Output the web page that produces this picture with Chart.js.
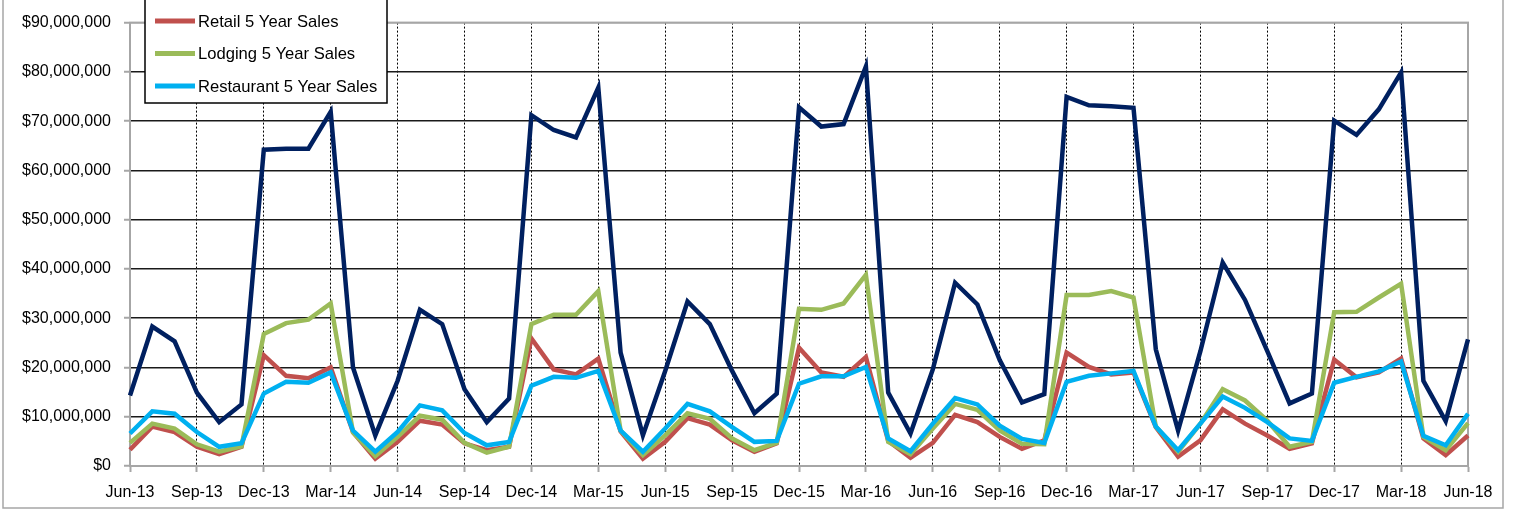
<!DOCTYPE html>
<html lang="en">
  <head>
    <meta charset="UTF-8" />
    <title>5 Year Sales</title>
    <style>
      html, body { margin: 0; padding: 0; background: #fff; }
      #wrap { width: 1514px; height: 510px; }
    </style>
  </head>
  <body>
    <div id="wrap"><canvas id="salesChart" width="1514" height="510"></canvas></div>

    <script src="https://cdn.jsdelivr.net/npm/chart.js"></script>

    <script>
      // monthly labels, Jun-13 .. Jun-18
      const months = [
        "Jun-13", "Jul-13", "Aug-13", "Sep-13", "Oct-13", "Nov-13", "Dec-13", "Jan-14", "Feb-14", "Mar-14",
        "Apr-14", "May-14", "Jun-14", "Jul-14", "Aug-14", "Sep-14", "Oct-14", "Nov-14", "Dec-14", "Jan-15",
        "Feb-15", "Mar-15", "Apr-15", "May-15", "Jun-15", "Jul-15", "Aug-15", "Sep-15", "Oct-15", "Nov-15",
        "Dec-15", "Jan-16", "Feb-16", "Mar-16", "Apr-16", "May-16", "Jun-16", "Jul-16", "Aug-16", "Sep-16",
        "Oct-16", "Nov-16", "Dec-16", "Jan-17", "Feb-17", "Mar-17", "Apr-17", "May-17", "Jun-17", "Jul-17",
        "Aug-17", "Sep-17", "Oct-17", "Nov-17", "Dec-17", "Jan-18", "Feb-18", "Mar-18", "Apr-18", "May-18",
        "Jun-18"
      ];

      // values in millions of dollars
      const totalSales = [
        14.3, 28.3, 25.3, 14.9, 8.9, 12.5, 64.2, 64.4, 64.4, 71.9,
        20.0, 6.2, 17.3, 31.7, 28.8, 15.6, 8.9, 13.7, 71.2, 68.2,
        66.7, 76.8, 23.0, 6.2, 19.3, 33.4, 28.8, 19.3, 10.7, 14.7,
        72.8, 68.9, 69.4, 81.1, 14.9, 6.6, 19.6, 37.2, 32.8, 21.5,
        12.9, 14.6, 74.9, 73.2, 73.0, 72.7, 23.7, 7.2, 23.3, 41.3,
        33.7, 23.3, 12.7, 14.7, 70.1, 67.2, 72.4, 79.9, 17.3, 9.1,
        25.7
      ];
      const retailSales = [
        3.3, 8.0, 6.9, 3.9, 2.4, 3.9, 22.5, 18.3, 17.8, 20.0,
        6.9, 1.5, 4.9, 9.2, 8.4, 4.6, 3.2, 3.9, 25.9, 19.6,
        18.6, 21.8, 7.0, 1.5, 4.9, 9.7, 8.4, 5.2, 2.9, 4.6,
        24.0, 19.0, 18.1, 22.1, 5.1, 1.7, 4.7, 10.4, 8.9, 5.9,
        3.5, 5.2, 23.0, 20.1, 18.6, 19.0, 7.9, 1.9, 5.2, 11.5,
        8.6, 6.2, 3.5, 4.6, 21.6, 18.0, 19.0, 21.8, 5.6, 2.2,
        6.2
      ];
      const lodgingSales = [
        4.7, 8.6, 7.6, 4.4, 2.9, 4.0, 26.8, 29.0, 29.7, 33.0,
        6.8, 2.0, 5.9, 10.2, 9.4, 4.7, 2.7, 3.9, 28.8, 30.7,
        30.7, 35.5, 7.2, 2.2, 6.2, 10.7, 9.6, 5.6, 3.2, 4.7,
        31.9, 31.7, 33.0, 38.8, 4.9, 2.4, 7.6, 12.6, 11.4, 7.2,
        4.5, 4.4, 34.7, 34.7, 35.5, 34.2, 8.0, 2.9, 8.6, 15.6,
        13.3, 9.2, 3.9, 4.9, 31.2, 31.3, 34.2, 37.0, 5.9, 3.2,
        8.7
      ];
      const restaurantSales = [
        6.6, 11.1, 10.6, 6.9, 3.9, 4.6, 14.7, 17.1, 16.9, 19.0,
        7.2, 2.9, 6.9, 12.3, 11.3, 6.7, 4.2, 4.9, 16.3, 18.1,
        17.9, 19.3, 7.2, 2.9, 7.6, 12.6, 11.1, 7.9, 4.9, 5.1,
        16.7, 18.2, 18.2, 20.1, 5.6, 3.0, 8.6, 13.8, 12.5, 8.2,
        5.5, 4.7, 17.1, 18.3, 18.8, 19.3, 8.0, 3.2, 8.6, 14.1,
        11.8, 8.9, 5.6, 5.1, 16.9, 18.1, 19.2, 21.2, 6.1, 4.2,
        10.6
      ];

      const FONT = "'Liberation Sans', Arial, sans-serif";

      // boxed legend sitting in the top-left corner (partly cut off at the top)
      const boxLegend = {
        id: "boxLegend",
        afterDraw(chart) {
          const ctx = chart.ctx;
          const items = chart.data.datasets.filter((d) => d.inLegend);
          items.sort((a, b) => a.legendPos - b.legendPos);
          ctx.save();
          ctx.fillStyle = "#fff";
          ctx.fillRect(145, -20, 242, 123);
          ctx.strokeStyle = "#000";
          ctx.lineWidth = 1.5;
          ctx.strokeRect(145, -20, 242, 123);
          ctx.font = "16.6px " + FONT;
          ctx.textBaseline = "middle";
          ctx.fillStyle = "#000";
          items.forEach((d, i) => {
            const y = 21 + i * 32.5;
            ctx.strokeStyle = d.borderColor;
            ctx.lineWidth = 5;
            ctx.beginPath();
            ctx.moveTo(155, y);
            ctx.lineTo(195, y);
            ctx.stroke();
            ctx.fillText(d.label, 198, y + 1);
          });
          ctx.restore();
        },
      };

      // grey frame round the plot area and round the whole chart
      const frames = {
        id: "frames",
        beforeDatasetsDraw(chart) {
          const { ctx, chartArea: a } = chart;
          ctx.save();
          ctx.strokeStyle = "#a6a6a6";
          ctx.lineWidth = 2;
          ctx.strokeRect(a.left, a.top, a.right - a.left, a.bottom - a.top);
          ctx.restore();
        },
        afterDraw(chart) {
          const ctx = chart.ctx;
          ctx.save();
          ctx.strokeStyle = "#a6a6a6";
          ctx.lineWidth = 1.5;
          ctx.strokeRect(3, -10, 1500, 518);
          ctx.restore();
        },
      };

      function series(label, data, color, order, legendPos, inLegend) {
        return {
          label: label,
          data: data,
          borderColor: color,
          backgroundColor: color,
          borderWidth: 4.5,
          pointRadius: 0,
          tension: 0,
          fill: false,
          order: order,
          legendPos: legendPos,
          inLegend: inLegend,
        };
      }

      new Chart(document.getElementById("salesChart"), {
        type: "line",
        data: {
          labels: months,
          datasets: [
            series("Total 5 Year Sales", totalSales, "#002060", 3, 0, false),
            series("Retail 5 Year Sales", retailSales, "#c0504d", 2, 1, true),
            series("Lodging 5 Year Sales", lodgingSales, "#9bbb59", 1, 2, true),
            series("Restaurant 5 Year Sales", restaurantSales, "#00b0f0", 0, 3, true),
          ],
        },
        options: {
          responsive: false,
          devicePixelRatio: 1,
          animation: false,
          layout: { padding: { top: 18, right: 46, left: 0, bottom: 0 } },
          plugins: {
            legend: { display: false },
            tooltip: { enabled: false },
          },
          scales: {
            x: {
              type: "category",
              offset: false,
              afterFit: (s) => { s.height = 44; },
              ticks: {
                autoSkip: false,
                maxRotation: 0,
                padding: 11,
                color: "#000",
                font: { family: FONT, size: 16 },
                // only every third month is labelled; null also hides that grid line
                callback: function (val, idx) {
                  return idx % 3 === 0 ? this.getLabelForValue(val) : null;
                },
              },
              grid: {
                color: (c) => (c.index === 0 ? "transparent" : "#000"),
                tickColor: "#a6a6a6",
                lineWidth: 1,
                tickLength: 6,
                tickWidth: 2,
              },
              border: { display: true, color: "#a6a6a6", width: 2, dash: [2, 2] },
            },
            y: {
              min: 0,
              max: 90,
              afterFit: (s) => { s.width = 130; },
              ticks: {
                stepSize: 10,
                padding: 13,
                color: "#000",
                font: { family: FONT, size: 16 },
                callback: (v) => "$" + (v * 1000000).toLocaleString("en-US"),
              },
              grid: {
                color: (c) => (c.tick && (c.tick.value === 0 || c.tick.value === 90) ? "#a6a6a6" : "#1a1a1a"),
                lineWidth: 1.5,
                tickColor: "#a6a6a6",
                tickLength: 6,
                tickWidth: 2,
              },
              border: { display: true, color: "#a6a6a6", width: 2 },
            },
          },
        },
        plugins: [frames, boxLegend],
      });
    </script>
  </body>
</html>
